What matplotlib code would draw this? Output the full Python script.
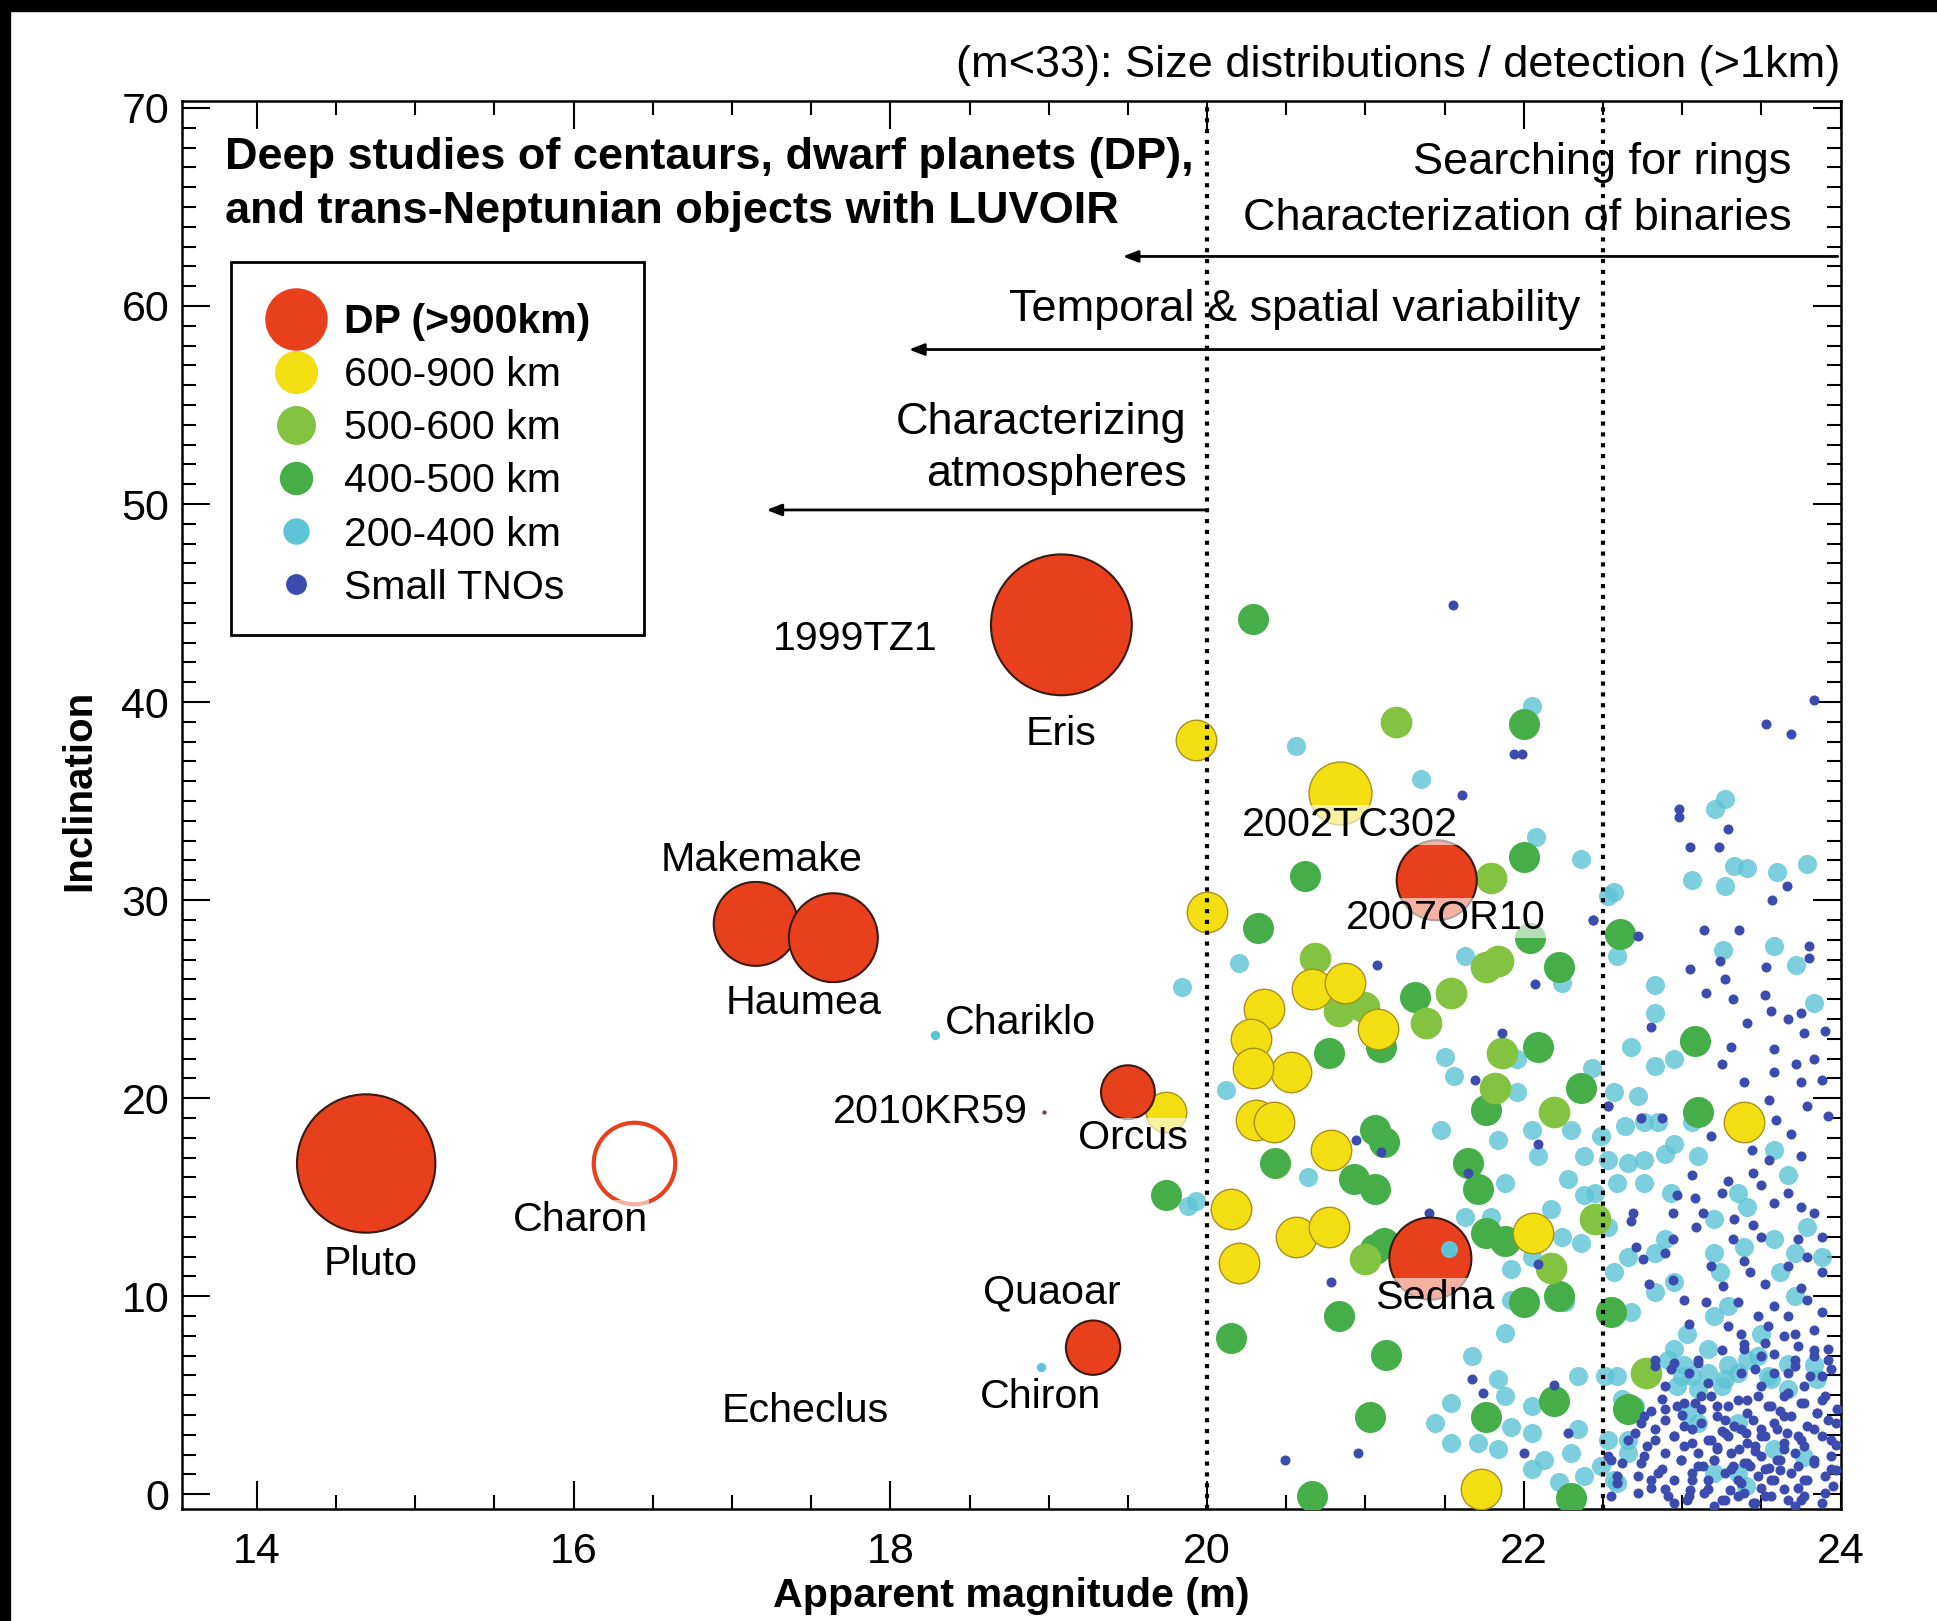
from matplotlib import pyplot as plt
from matplotlib.lines import Line2D
from matplotlib.patches import Rectangle
from matplotlib.ticker import MultipleLocator

plt.rcParams['font.family'] = ['Liberation Sans', 'DejaVu Sans']

# named dwarf planets (red) - apparent magnitude, inclination
dp_names = ["Pluto", "Eris", "Makemake", "Haumea", "Orcus", "Quaoar", "2007OR10", "Sedna"]
dp_mag = [14.69, 19.08, 17.15, 17.64, 19.50, 19.28, 21.45, 21.41]
dp_inc = [16.7, 43.9, 28.8, 28.1, 20.3, 7.4, 31.0, 11.9]

charon_mag, charon_inc = 16.38, 16.7

# 2002TC302 (600-900 km, big one)
tc302_mag, tc302_inc = 20.84, 35.4

# small labelled objects
small_mag = [18.28, 18.95]     # Chariklo, Chiron
small_inc = [23.2, 6.4]
kr59_mag, kr59_inc = 18.97, 19.3

# 600-900 km
yellow_mag = [19.93, 20.0, 19.74, 20.66, 20.87, 20.36, 20.28, 20.53, 20.29, 20.31,
              20.42, 20.78, 20.15, 20.56, 20.77, 20.20, 21.08, 21.73, 22.06, 23.39]
yellow_inc = [38.1, 29.4, 19.3, 25.5, 25.8, 24.5, 23.0, 21.3, 21.5, 18.9,
              18.8, 17.4, 14.4, 13.0, 13.5, 11.7, 23.5, 0.25, 13.2, 18.8]

# 500-600 km
lime_mag = [21.19, 20.68, 21.76, 21.84, 21.54, 20.99, 21.38, 21.82, 21.86, 21.79,
            22.45, 22.19, 22.77, 21.00, 22.17, 20.83]
lime_inc = [39.0, 27.1, 26.6, 26.9, 25.3, 24.6, 23.8, 20.5, 22.3, 31.1,
            13.9, 19.3, 6.1, 11.9, 11.4, 24.4]

# 400-500 km
green_mag = [20.29, 22.00, 20.62, 22.00, 20.32, 22.61, 22.04, 22.22, 21.31, 20.77,
             21.10, 21.06, 21.12, 20.43, 20.93, 21.06, 21.06, 21.12, 20.83, 20.15,
             21.13, 21.03, 20.66, 21.65, 21.76, 21.71, 21.76, 21.88, 22.09, 22.36,
             22.22, 22.00, 21.76, 22.19, 22.55, 22.30, 19.74, 23.08, 23.10, 22.66]
green_inc = [44.2, 38.9, 31.2, 32.2, 28.6, 28.3, 28.1, 26.6, 25.1, 22.3,
             22.6, 18.4, 17.8, 16.7, 15.9, 15.4, 12.4, 12.7, 9.0, 7.9,
             7.05, 3.9, -0.1, 16.7, 19.4, 15.4, 13.2, 12.8, 22.6, 20.5,
             10.0, 9.7, 3.9, 4.7, 9.2, -0.2, 15.1, 22.9, 19.3, 4.3]

# 200-400 km
cyan_mag = [19.84, 19.93, 20.12, 20.64, 19.88, 21.50, 21.56, 21.48, 21.84, 21.88,
            21.96, 22.05, 22.09, 22.30, 22.38, 22.28, 22.38, 21.63, 21.79, 21.92,
            22.05, 22.24, 22.36, 22.26, 21.92, 21.88, 21.67, 21.88, 22.05, 21.44,
            21.54, 21.71, 21.84, 22.05, 21.92, 22.13, 22.30, 22.34, 22.38, 22.22,
            22.05, 21.54, 21.84, 22.34, 22.17, 21.96, 22.43,
            20.56, 21.35, 22.05, 22.36, 22.53, 20.20, 22.08, 21.63, 22.24,
            23.27, 23.21, 23.33, 23.41, 23.06, 23.27, 23.60, 23.79, 22.57, 23.58,
            23.72, 23.26, 22.83, 22.83, 22.59, 23.83,
            22.68, 22.83, 22.95, 22.57, 22.72, 22.49, 22.64, 22.76, 22.85, 22.95,
            23.06, 22.53, 22.76, 22.89, 22.59, 22.76, 23.10, 23.35, 23.41, 23.58,
            23.67, 22.66, 22.57, 22.83, 22.89, 23.20, 23.24, 22.95, 22.83, 22.68,
            23.29, 23.39, 23.58, 23.71, 23.62, 23.03, 23.20, 23.50, 23.71, 22.91,
            23.01, 23.16, 23.29, 23.41, 23.54, 23.67, 22.97, 23.10, 23.25, 23.67,
            23.83, 22.51, 22.62, 22.53, 22.66, 22.57, 22.49, 23.88, 23.79, 23.20,
            22.93, 22.66, 22.45, 22.53, 23.03, 23.35, 23.58, 23.20, 23.77, 23.40,
            22.59, 22.70, 22.66, 22.95, 23.06, 23.16, 23.27, 23.35, 23.48, 23.56,
            23.10, 23.35, 22.59, 23.00, 23.85]
cyan_inc = [25.6, 14.8, 20.4, 16.0, 14.55, 22.1, 21.1, 18.4, 17.9, 15.7,
            20.3, 18.4, 17.1, 18.4, 17.1, 15.9, 15.1, 14.0, 14.0, 11.35,
            12.0, 13.0, 12.7, 9.7, 9.8, 8.15, 7.0, 4.95, 4.45, 3.6,
            2.6, 2.6, 2.3, 3.1, 3.4, 1.75, 2.1, 3.3, 0.9, 0.6,
            1.25, 4.6, 5.8, 5.96, 14.4, 22.0, 21.5,
            37.8, 36.1, 39.8, 32.1, 30.2, 26.8, 33.2, 27.2, 25.8,
            35.1, 34.6, 31.7, 31.6, 31.0, 30.7, 31.4, 31.8, 30.4, 27.7,
            26.7, 27.5, 25.7, 24.3, 27.2, 24.8,
            22.6, 21.6, 22.0, 20.3, 20.1, 18.1, 18.6, 18.8, 18.8, 17.7,
            18.8, 16.9, 16.9, 17.2, 15.7, 15.7, 17.1, 15.2, 14.5, 17.4,
            16.1, 12.0, 11.2, 12.2, 12.9, 12.2, 11.2, 10.7, 10.2, 9.2,
            9.5, 12.5, 12.9, 12.2, 11.2, 8.1, 9.0, 8.1, 10.0, 6.8,
            6.5, 6.1, 6.5, 6.8, 5.96, 6.6, 5.45, 5.3, 5.45, 5.3,
            6.5, 5.96, 4.8, 2.76, 2.1, 0.74, 1.4, 12.0, 13.5, 13.9,
            15.2, 16.7, 15.2, 13.5, 4.1, 3.6, 2.3, 1.07, 1.9, 0.4,
            5.96, 4.45, 2.76, 7.31, 5.96, 7.31, 5.8, 6.13, 6.97, 5.8,
            3.6, 1.08, 0.57, 5.96, 5.8]

# small TNOs
blue_mag = [21.55, 21.94, 21.99, 21.61, 21.07, 22.07, 22.44, 21.86, 21.69, 20.94,
            21.10, 21.65, 21.40, 22.09, 20.78, 22.09, 21.67, 21.74, 22.19, 22.28,
            22.00, 20.95, 20.49, 22.53,
            23.53, 23.69, 23.83, 22.98, 22.98, 23.29, 23.05, 23.23, 23.66, 23.57,
            23.14, 23.36, 23.80, 23.80, 23.24, 23.05, 23.53, 23.27, 23.15, 23.32,
            23.52, 23.56, 23.67, 23.75, 22.80, 23.41, 23.77, 23.90, 22.72, 22.44,
            23.31, 23.58, 23.25, 23.39, 23.58, 23.72, 23.83, 23.88, 23.75,
            22.53, 22.87, 22.74, 23.55, 23.59, 23.69, 23.79, 23.92, 23.18,
            23.44, 23.55, 23.75, 23.06, 23.29, 23.25, 23.45, 23.50, 23.67, 23.75, 23.58,
            22.97, 23.08, 22.69, 22.94, 23.13, 23.09, 23.33, 23.45, 23.83, 22.68,
            23.32, 23.50, 23.73, 23.88,
            22.71, 22.94, 22.75, 22.89, 23.39, 23.18, 23.43, 23.67, 23.79, 23.88,
            22.79, 22.94, 23.26, 23.52, 23.75,
            23.01, 23.15, 23.35, 23.48, 23.58, 23.67, 23.79, 23.88, 23.04, 23.29,
            23.54, 23.71, 23.83, 23.37,
            22.83, 22.93, 23.10, 23.25, 23.39, 23.50, 23.58, 23.71, 23.83, 23.92,
            23.04, 23.37, 23.67, 23.88, 22.89, 23.16, 23.50, 23.77,
            22.87, 22.97, 23.08, 23.18, 23.29, 23.41, 23.54, 23.64, 23.75, 23.88,
            22.74, 22.89, 23.01, 23.12, 23.22, 23.33, 23.45, 23.58, 23.69, 23.79, 23.92,
            22.83, 22.95, 23.06, 23.18, 23.29, 23.41, 23.52, 23.64, 23.75, 23.88,
            22.76, 22.89, 22.99, 23.10, 23.20, 23.31, 23.39, 23.50, 23.60, 23.71, 23.83, 23.94,
            22.72, 22.85, 22.95, 23.06, 23.16, 23.27, 23.37, 23.48, 23.58, 23.69, 23.79, 23.90,
            22.91, 23.03, 23.14, 23.25, 23.35, 23.45, 23.56, 23.67, 23.77, 23.88,
            22.53, 22.59, 22.66, 22.62,
            23.25, 23.40, 23.50, 23.36, 23.46, 23.55, 23.43, 23.32, 23.62, 23.22,
            23.66, 23.30, 23.50, 23.73, 23.05, 22.80, 23.13, 23.97, 23.97, 23.97,
            23.95, 22.80, 23.00, 23.62, 23.85,
            23.39, 23.52, 23.64, 23.73, 23.83, 23.92, 23.46, 23.58, 23.71, 23.81,
            23.94, 22.83, 22.95, 23.10,
            22.89, 23.01, 23.12, 23.22, 23.35, 23.48, 23.56, 23.67, 23.77, 23.90,
            22.76, 23.12, 23.27, 23.41, 23.64, 23.85, 23.98,
            22.70, 22.83, 22.95, 23.06, 23.16, 23.27, 23.37, 23.50, 23.60, 23.73,
            23.83, 23.94, 22.78, 23.01, 23.22, 23.46, 23.64, 23.77,
            22.55, 22.74, 22.87, 22.99, 23.10, 23.20, 23.31, 23.41, 23.52, 23.62,
            23.73, 23.83, 23.94, 22.59, 22.80, 23.06, 23.35, 23.56, 23.77,
            22.72, 22.89, 23.04, 23.16, 23.27, 23.39, 23.52, 23.64, 23.75, 23.90,
            22.55, 22.95, 23.20, 23.46, 23.71]
blue_inc = [44.9, 37.4, 37.4, 35.3, 26.7, 25.75, 29.0, 23.3, 20.9, 17.9,
            17.3, 16.2, 14.2, 17.7, 10.7, 11.6, 5.8, 5.1, 5.5, 3.1,
            2.1, 2.1, 1.75, 19.6,
            38.9, 38.4, 40.1, 34.6, 34.2, 33.6, 32.7, 32.7, 30.7, 30.0,
            28.5, 28.5, 27.7, 27.1, 26.9, 26.5, 26.6, 26.0, 25.3, 25.0,
            25.2, 24.4, 24.0, 24.3, 23.6, 23.8, 23.3, 23.4, 28.2, 29.0,
            22.6, 22.5, 21.7, 20.8, 21.3, 21.7, 22.0, 20.9, 20.8,
            19.6, 19.0, 19.0, 19.9, 18.9, 18.2, 19.6, 19.1, 18.1,
            17.4, 16.9, 17.1, 16.1, 15.8, 15.2, 16.2, 15.6, 15.2, 14.5, 14.7,
            15.1, 14.96, 14.2, 14.2, 14.2, 13.5, 13.9, 13.6, 14.2, 13.8,
            12.9, 13.0, 12.9, 13.0,
            12.5, 12.9, 11.9, 12.2, 11.8, 11.5, 11.2, 11.5, 12.0, 11.2,
            10.6, 10.8, 10.5, 10.6, 10.4,
            9.8, 9.7, 9.7, 9.0, 9.5, 9.0, 9.8, 9.2, 8.6, 8.5,
            8.5, 8.1, 8.3, 8.1,
            6.8, 6.3, 6.8, 7.3, 7.6, 7.0, 7.1, 6.8, 7.3, 6.8,
            6.1, 6.1, 6.1, 5.96, 5.45, 5.6, 5.45, 5.45,
            4.8, 4.44, 4.61, 4.95, 4.44, 4.78, 4.44, 4.95, 4.61, 4.78,
            3.6, 3.77, 3.43, 3.6, 3.94, 3.43, 3.77, 3.6, 3.94, 3.43, 3.77,
            2.76, 2.93, 2.59, 2.76, 2.93, 2.59, 2.93, 2.59, 2.76, 2.93,
            1.92, 2.08, 1.75, 2.08, 1.75, 2.08, 1.58, 1.92, 1.75, 2.08, 1.75, 1.92,
            0.91, 1.07, 0.74, 1.07, 0.74, 1.07, 0.57, 0.91, 0.74, 1.07, 0.74, 0.91,
            -0.1, -0.27, 0.06, -0.27, -0.1, -0.44, -0.1, -0.27, -0.1, -0.44,
            1.92, 0.57, 2.76, 1.58,
            3.2, 3.1, 3.3, 2.3, 2.2, 1.3, 1.4, 1.4, 1.2, 2.4,
            3.1, 0.2, 0.3, 0.3, 0.2, 0.3, 1.4, 1.2, 2.5, 3.6,
            0.4, 4.2, 4.0, 4.2, 4.1,
            7.31, 7.65, 7.98, 7.48, 6.97, 7.31, 6.3, 6.13, 6.47, 5.96,
            6.3, 6.47, 6.64, 6.64,
            4.28, 4.62, 4.95, 4.45, 4.78, 4.95, 4.45, 5.12, 4.62, 4.95,
            3.94, 4.28, 3.77, 4.11, 3.94, 4.11, 4.28,
            3.1, 3.27, 2.93, 3.27, 2.76, 3.1, 3.27, 2.93, 3.27, 2.93,
            3.27, 2.76, 2.43, 2.43, 2.26, 2.43, 2.26, 2.43,
            1.75, 1.59, 1.25, 1.75, 1.42, 1.75, 1.25, 1.59, 1.25, 1.75,
            1.42, 1.59, 1.25, 0.91, 0.74, 0.74, 0.74, 0.74, 0.74,
            0.07, 0.24, -0.1, 0.24, -0.27, 0.07, -0.1, 0.24, -0.27, 0.07,
            -0.1, -0.43, -0.6, -0.43, -0.6]

RED = '#e8401c'
YELLOW = '#f3de12'
LIME = '#84c341'
GREEN = '#45ae48'
CYAN = '#5cc4d6'
BLUE = '#3b4cae'

fig = plt.figure(figsize=(19.37, 16.21), dpi=100)
ax = fig.add_axes([0.0938, 0.0688, 0.8564, 0.8689])

ax.scatter(cyan_mag, cyan_inc, s=190, color=CYAN, alpha=0.8, lw=0, zorder=2)
ax.scatter(green_mag, green_inc, s=500, color=GREEN, lw=0, zorder=3)
ax.scatter(lime_mag, lime_inc, s=520, color=LIME, lw=0, zorder=3)
ax.scatter(yellow_mag, yellow_inc, s=850, color=YELLOW, edgecolor='#a8901c', lw=1, zorder=4)
ax.scatter([tc302_mag], [tc302_inc], s=2050, color=YELLOW, edgecolor='#a8901c', lw=1, zorder=4)
ax.scatter(blue_mag, blue_inc, s=52, color=BLUE, lw=0, zorder=5)
ax.scatter(small_mag, small_inc, s=45, color=CYAN, lw=0, zorder=5)
ax.scatter([kr59_mag], [kr59_inc], s=10, color='#7a3a6a', lw=0, zorder=5)

dp_sizes = [9925, 10280, 3660, 4100, 1500, 1530, 3320, 3490]
ax.scatter(dp_mag, dp_inc, s=dp_sizes, color=RED, edgecolor='#3a1a10', lw=1.5, zorder=6)
ax.scatter([charon_mag], [charon_inc], s=3445, facecolor='white', edgecolor=RED, lw=3, zorder=6)
# cyan dot seen over Sedna
ax.scatter([21.53], [12.4], s=150, color=CYAN, lw=0, zorder=7)

# object labels
labels = [("Pluto", 14.72, 11.6), ("Charon", 16.04, 13.85), ("Makemake", 17.19, 32.0),
          ("Haumea", 17.45, 24.8), ("Eris", 19.08, 38.4), ("1999TZ1", 17.78, 43.2),
          ("Chariklo", 18.82, 23.8), ("2010KR59", 18.25, 19.3), ("Orcus", 19.53, 18.0),
          ("Quaoar", 19.02, 10.2), ("Chiron", 18.95, 4.9), ("Echeclus", 17.46, 4.2),
          ("2002TC302", 20.90, 33.8), ("2007OR10", 21.51, 29.1), ("Sedna", 21.44, 9.9)]
for name, lx, ly in labels:
    ax.text(lx, ly, name, fontsize=29.7, ha='center', va='center', zorder=8,
            bbox=dict(facecolor='white', alpha=0.6, edgecolor='none', pad=1))

# detection limits
for xv in [20, 22.5]:
    ax.axvline(xv, color='black', ls=(0, (1, 1.6)), lw=3, zorder=9)

arrow_kw = dict(arrowstyle='-|>,head_length=0.9,head_width=0.35', color='black', lw=2)
ax.annotate('', xy=(19.45, 62.5), xytext=(24, 62.5), arrowprops=arrow_kw, zorder=9)
ax.annotate('', xy=(18.1, 57.8), xytext=(22.5, 57.8), arrowprops=arrow_kw, zorder=9)
ax.annotate('', xy=(17.2, 49.7), xytext=(20, 49.7), arrowprops=arrow_kw, zorder=9)

ax.text(13.80, 67.5, "Deep studies of centaurs, dwarf planets (DP),", fontsize=32.5,
        fontweight='bold', ha='left', va='center')
ax.text(13.80, 64.75, "and trans-Neptunian objects with LUVOIR", fontsize=32.5,
        fontweight='bold', ha='left', va='center')
ax.text(23.69, 67.25, "Searching for rings", fontsize=32.5, ha='right', va='center')
ax.text(23.69, 64.4, "Characterization of binaries", fontsize=32.5, ha='right', va='center')
ax.text(22.36, 59.8, "Temporal & spatial variability", fontsize=32.5, ha='right', va='center')
ax.text(19.87, 54.1, "Characterizing", fontsize=32.5, ha='right', va='center')
ax.text(19.87, 51.5, "atmospheres", fontsize=32.5, ha='right', va='center')

ax.text(1.0, 1.025, "(m<33): Size distributions / detection (>1km)", fontsize=32.5,
        ha='right', va='center', transform=ax.transAxes)

# legend: frame drawn separately, entries placed by ax.legend
ax.add_patch(Rectangle((0.0298, 0.6209), 0.2489, 0.2648, transform=ax.transAxes,
                       facecolor='white', edgecolor='black', lw=2, zorder=10))
handles = [
    Line2D([], [], ls='', marker='o', ms=44, mfc=RED, mec=RED),
    Line2D([], [], ls='', marker='o', ms=30, mfc=YELLOW, mec=YELLOW),
    Line2D([], [], ls='', marker='o', ms=27, mfc=LIME, mec=LIME),
    Line2D([], [], ls='', marker='o', ms=23, mfc=GREEN, mec=GREEN),
    Line2D([], [], ls='', marker='o', ms=18, mfc=CYAN, mec=CYAN),
    Line2D([], [], ls='', marker='o', ms=14, mfc=BLUE, mec=BLUE),
]
leg_labels = ["DP (>900km)", "600-900 km", "500-600 km", "400-500 km", "200-400 km", "Small TNOs"]
leg = ax.legend(handles, leg_labels, loc='upper left', bbox_to_anchor=(0.0494, 0.8566),
                borderaxespad=0, borderpad=0, fontsize=29.5, frameon=False,
                labelspacing=0.37, handlelength=1.6, handletextpad=0.35)
leg.get_texts()[0].set_fontweight('bold')
leg.set_zorder(11)

ax.set_xlim(13.525, 24)
ax.set_ylim(-0.77, 70.35)
ax.xaxis.set_major_locator(MultipleLocator(2))
ax.xaxis.set_minor_locator(MultipleLocator(0.5))
ax.yaxis.set_major_locator(MultipleLocator(10))
ax.yaxis.set_minor_locator(MultipleLocator(1))
ax.tick_params(which='both', direction='in', top=True, right=True, width=1.5, labelsize=31)
ax.tick_params(which='major', length=20)
ax.tick_params(which='minor', length=10)
ax.tick_params(axis='x', pad=16)
ax.tick_params(axis='y', pad=9)
for sp in ax.spines.values():
    sp.set_linewidth(1.8)

ax.set_xlabel("Apparent magnitude (m)", fontsize=29.7, fontweight='bold', labelpad=4)
ax.set_ylabel("Inclination", fontsize=29, fontweight='bold')
ax.yaxis.set_label_coords(-0.0506, 0.5104)

# black frame on top and left edges of the picture
fig.patches.append(Rectangle((0, 1 - 11 / 1621), 1, 11 / 1621, transform=fig.transFigure,
                             color='black', zorder=20))
fig.patches.append(Rectangle((0, 0), 10 / 1937, 1, transform=fig.transFigure,
                             color='black', zorder=20))

fig.savefig("out.png", dpi=100)
